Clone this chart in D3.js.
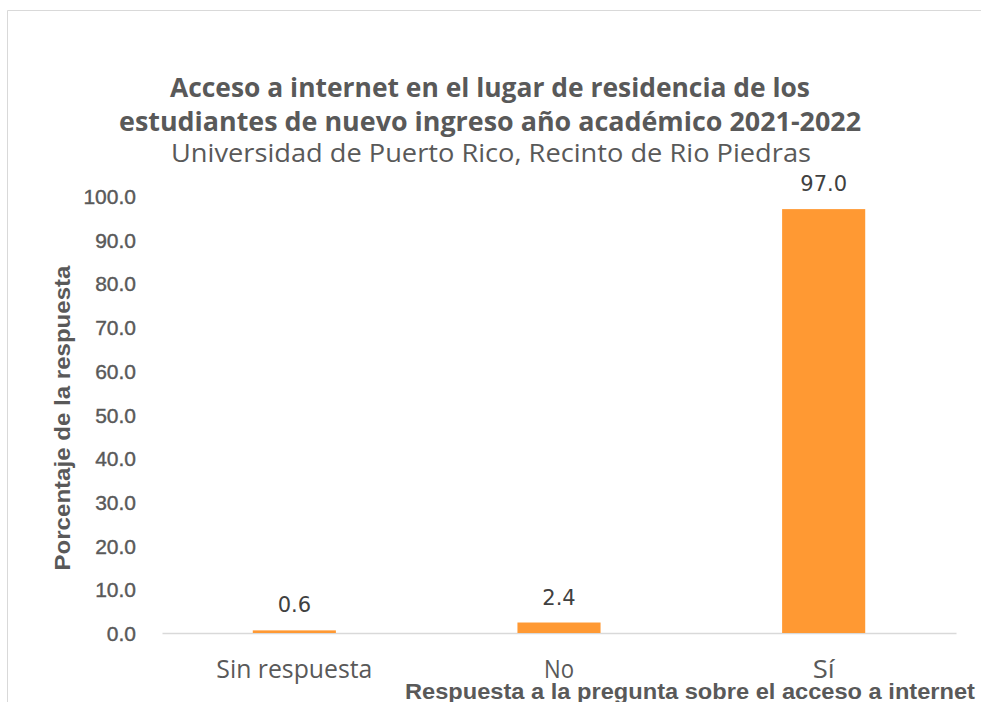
<!DOCTYPE html>
<html><head><meta charset="utf-8">
<script src="https://cdn.jsdelivr.net/npm/d3@7"></script>
<style>body{margin:0;background:#fff}svg{display:block}</style>
</head><body>
<script>
const categories = ["Sin respuesta", "No", "Sí"];
const values = [0.6, 2.4, 97.0];
const yTicks = [0, 10, 20, 30, 40, 50, 60, 70, 80, 90, 100];
const titleLines = ["Acceso a internet en el lugar de residencia de los", "estudiantes de nuevo ingreso año académico 2021-2022"];
const subtitle = "Universidad de Puerto Rico, Recinto de Rio Piedras";
const yTitle = "Porcentaje de la respuesta";
const xTitle = "Respuesta a la pregunta sobre el acceso a internet";

const W = 981, H = 702;
const svg = d3.select("body").append("svg").attr("width", W).attr("height", H);
svg.append("rect").attr("width", W).attr("height", H).attr("fill", "#fff");
// chart border
svg.append("path").attr("d", `M7.5,${H}V10.5H${W}`).attr("fill", "none").attr("stroke", "#d9d9d9").attr("stroke-width", 1);

const plot = {left: 162, right: 956, top: 196, bottom: 633};
const x = d3.scaleBand().domain(categories).range([plot.left, plot.right]).paddingInner(0.686).paddingOuter(0.343);
const y = d3.scaleLinear().domain([0, 100]).range([plot.bottom, plot.top]);

const textCol = "#595959";

// titles
const tl = [[86, 640], [120, 742]];
titleLines.forEach((t, i) => {
  svg.append("text").attr("x", 490).attr("y", tl[i][0]).attr("text-anchor", "middle").attr("dominant-baseline", "central")
    .attr("font-family", "Open Sans").attr("font-weight", "bold").attr("font-size", 27).attr("fill", textCol)
    .attr("textLength", tl[i][1]).attr("lengthAdjust", "spacingAndGlyphs").text(t);
});
svg.append("text").attr("x", 491).attr("y", 152).attr("text-anchor", "middle").attr("dominant-baseline", "central")
  .attr("font-family", "Open Sans").attr("font-size", 26).attr("fill", textCol)
  .attr("textLength", 640).attr("lengthAdjust", "spacingAndGlyphs").text(subtitle);

// y axis
const yAxis = d3.axisLeft(y).tickValues(yTicks).tickFormat(d3.format(".1f")).tickSize(0).tickPadding(0);
const ya = svg.append("g").attr("transform", `translate(136,0)`).call(yAxis);
ya.select(".domain").remove();
ya.selectAll("text").attr("font-family", "Liberation Sans").attr("font-size", 21).attr("fill", textCol)
  .attr("stroke", textCol).attr("stroke-width", 0.4).attr("dy", "0.36em");

// x axis
const xAxis = d3.axisBottom(x).tickSize(0).tickPadding(27);
const xa = svg.append("g").attr("transform", `translate(0,${plot.bottom})`).call(xAxis);
xa.select(".domain").attr("stroke", "#d9d9d9").attr("stroke-width", 1.5);
xa.selectAll("text").attr("font-family", "Open Sans").attr("font-size", 25).attr("fill", textCol)
  .attr("textLength", (d, i) => [156, 30, 22][i]).attr("lengthAdjust", "spacingAndGlyphs");

// bars
svg.append("g").selectAll("rect").data(values).join("rect")
  .attr("x", (d, i) => x(categories[i])).attr("width", x.bandwidth())
  .attr("y", d => y(d)).attr("height", d => y(0) - y(d)).attr("fill", "#ff9933");

// data labels
svg.append("g").selectAll("text").data(values).join("text")
  .attr("x", (d, i) => x(categories[i]) + x.bandwidth() / 2).attr("y", d => y(d) - 18)
  .attr("text-anchor", "middle").attr("font-family", "DejaVu Sans").attr("font-size", 21).attr("fill", "#404040")
  .text(d => d3.format(".1f")(d));

// axis titles
svg.append("text").attr("transform", `translate(62,418) rotate(-90)`).attr("text-anchor", "middle").attr("dominant-baseline", "central")
  .attr("font-family", "Liberation Sans").attr("font-weight", "bold").attr("font-size", 22).attr("fill", textCol)
  .attr("textLength", 305).attr("lengthAdjust", "spacingAndGlyphs").text(yTitle);
svg.append("text").attr("x", 975).attr("y", 699).attr("text-anchor", "end")
  .attr("font-family", "Liberation Sans").attr("font-weight", "bold").attr("font-size", 22).attr("fill", textCol)
  .attr("textLength", 570).attr("lengthAdjust", "spacingAndGlyphs").text(xTitle);
</script>
</body></html>
